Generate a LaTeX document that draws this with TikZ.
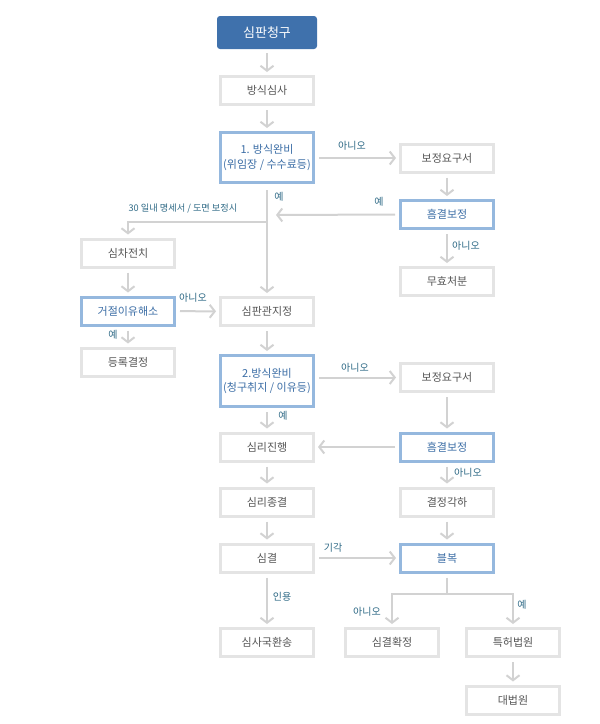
\documentclass[tikz,border=0pt]{standalone}
\usepackage{fontspec}
\setmainfont{Noto Sans CJK KR}
\usetikzlibrary{arrows.meta}
\definecolor{boxgray}{HTML}{E4E4E4}
\definecolor{boxblue}{HTML}{95B8DE}
\definecolor{headblue}{HTML}{3F71AC}
\definecolor{txtgray}{HTML}{555555}
\definecolor{txtblue}{HTML}{3C6EA6}
\definecolor{lblteal}{HTML}{2F6A86}
\definecolor{arrgray}{HTML}{D2D2D2}
\tikzset{
  stepgray/.style={draw=boxgray, line width=3pt, fill=white, minimum width=93pt, minimum height=28pt, inner sep=0pt, text=txtgray, font=\fontsize{11}{14.5}\selectfont, align=center},
  stepblue/.style={stepgray, draw=boxblue, text=txtblue},
  stephead/.style={fill=headblue, rounded corners=3pt, minimum width=100pt, minimum height=33pt, inner sep=0pt, text=white, font=\fontsize{13}{15}\selectfont},
  flow/.style={draw=arrgray, line width=2pt, -{Straight Barb[length=5pt,width=13pt]}, shorten <=4pt, shorten >=3pt},
  plain/.style={draw=arrgray, line width=2pt},
  lbl/.style={text=lblteal, font=\fontsize{10}{11}\selectfont, inner sep=0pt},
}

\begin{document}
\begin{tikzpicture}[x=1pt,y=-1pt]
\useasboundingbox (0,0) rectangle (600,724);
% Boxes:
\node (req) [stephead] at (267,32.5) {심판청구};
\node (exam) [stepgray] at (267,90.5) {방식심사};
\node (check1) [stepblue, minimum height=50pt] at (267,157.5) {1. 방식완비\\(위임장 / 수수료등)};
\node (fix1) [stepgray] at (447,158) {보정요구서};
\node (amend1) [stepblue] at (447,214.5) {흠결보정};
\node (void) [stepgray] at (447,281.5) {무효처분};
\node (pre) [stepgray] at (128,253) {심차전치};
\node (resolve) [stepblue] at (128,311) {거절이유해소};
\node (reg) [stepgray] at (128,362) {등록결정};
\node (assign) [stepgray] at (267,311.5) {심판관지정};
\node (check2) [stepblue, minimum height=51pt] at (267,381) {2.방식완비\\(청구취지 / 이유등)};
\node (fix2) [stepgray] at (447,377.5) {보정요구서};
\node (amend2) [stepblue] at (447,447) {흠결보정};
\node (proc) [stepgray] at (267,447) {심리진행};
\node (close) [stepgray] at (267,502) {심리종결};
\node (reject) [stepgray] at (447,502) {결정각하};
\node (decision) [stepgray] at (267,558) {심결};
\node (appeal) [stepblue] at (447,558) {블복};
\node (remand) [stepgray] at (267,642.5) {심사국환송};
\node (final) [stepgray] at (392,642.5) {심결확정};
\node (court) [stepgray] at (513,642.5) {특허법원};
\node (supreme) [stepgray] at (513,700) {대법원};
% Junctions:
\coordinate (split1) at (267,222);
\coordinate (join1) at (273,215);
\coordinate (split2) at (447,594);
% Connectors:
\draw[flow] (req) -- (exam);
\draw[flow] (exam) -- (check1);
\draw[flow] (check1.east |- fix1.west) -- (fix1.west);
\draw[flow] (fix1) -- (amend1);
\draw[flow] (amend1.west) -- (join1);
\draw[flow] (amend1) -- (void);
\draw[flow, shorten <=6pt] (check1) -- (assign);
\draw[flow, shorten <=0pt] (split1) -| (pre.north);
\draw[flow] (pre) -- (resolve);
\draw[flow] (resolve) -- (assign);
\draw[flow] (resolve) -- (reg);
\draw[flow] (assign) -- (check2);
\draw[flow] (check2.east |- fix2.west) -- (fix2.west);
\draw[flow] (check2) -- (proc);
\draw[flow] (fix2) -- (amend2);
\draw[flow] (amend2) -- (proc);
\draw[flow] (amend2) -- (reject);
\draw[flow] (proc) -- (close);
\draw[flow] (close) -- (decision);
\draw[flow] (reject) -- (appeal);
\draw[flow] (decision) -- (appeal);
\draw[flow] (decision) -- (remand);
\draw[plain, shorten <=4pt] (appeal.south) -- (split2);
\draw[flow, shorten <=0pt] (split2) -| (final.north);
\draw[flow, shorten <=0pt] (split2) -| (court.north);
\draw[flow] (court) -- (supreme);
% Labels:
\node (no1) [lbl] at (352,146) {아니오};
\node (yes1) [lbl] at (279,197) {예};
\node (yes2) [lbl] at (379,202) {예};
\node (within) [lbl, font=\fontsize{9.2}{10}\selectfont] at (183,209) {30 일내 명세서 / 도면 보정시};
\node (no2) [lbl] at (466,246) {아니오};
\node (no3) [lbl] at (193,298) {아니오};
\node (yes3) [lbl] at (113,335) {예};
\node (no4) [lbl] at (355,368) {아니오};
\node (yes4) [lbl] at (283,416) {예};
\node (no5) [lbl] at (468,473) {아니오};
\node (dismiss) [lbl] at (333,548) {기각};
\node (accept) [lbl] at (282,597) {인용};
\node (no6) [lbl] at (367,612) {아니오};
\node (yes5) [lbl] at (522,605) {예};
\end{tikzpicture}
\end{document}
